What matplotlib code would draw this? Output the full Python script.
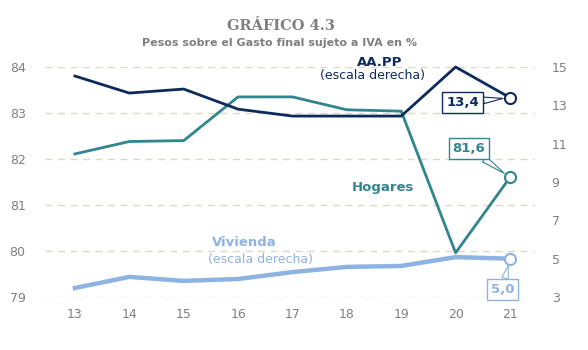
import numpy as np
import matplotlib
matplotlib.use('Agg')
import matplotlib.pyplot as plt

years = [13, 14, 15, 16, 17, 18, 19, 20, 21]
year_labels = ['13', '14', '15', '16', '17', '18', '19', '20', '21']
hogares = [82.11, 82.38, 82.40, 83.35, 83.35, 83.07, 83.04, 79.96, 81.6]   # eje izquierdo
aapp = [14.53, 13.64, 13.85, 12.80, 12.44, 12.44, 12.44, 15.0, 13.4]      # eje derecho
vivienda = [3.47, 4.05, 3.84, 3.94, 4.30, 4.57, 4.62, 5.08, 5.0]          # eje derecho

c_aapp = '#0e2a5c'
c_hog = '#31858f'
c_viv = '#8db3e2'
c_txt = '#7f7f7f'
c_grid = '#ddd8c4'

W, H = 588, 350
fig = plt.figure(figsize=(W/100, H/100), dpi=100)
ax = fig.add_axes([45/W, 53/H, 490/W, 230/H])
ax2 = ax.twinx()

ax.set_xlim(12.45, 21.46)
ax.set_ylim(79, 84)
ax2.set_ylim(3, 15)

for y in np.arange(79, 85):
    ax.axhline(y, color=c_grid, lw=1, ls=(0, (5, 4)), zorder=0)

ax.plot(years, hogares, color=c_hog, lw=2, clip_on=False, zorder=3)
ax2.plot(years, aapp, color=c_aapp, lw=2, clip_on=False, zorder=3)
ax2.plot(years, vivienda, color=c_viv, lw=3.2, clip_on=False, zorder=2)

ax.plot(years[-1], hogares[-1], 'o', ms=8, mfc='white', mec=c_hog, mew=1.5, clip_on=False, zorder=5)
ax2.plot(years[-1], aapp[-1], 'o', ms=8, mfc='white', mec=c_aapp, mew=1.5, clip_on=False, zorder=5)
ax2.plot(years[-1], vivienda[-1], 'o', ms=8, mfc='white', mec=c_viv, mew=1.5, clip_on=False, zorder=5)

for a in (ax, ax2):
    for s in a.spines.values():
        s.set_visible(False)
    a.tick_params(length=0, labelsize=9, labelcolor=c_txt)

ax.set_xticks(years)
ax.set_xticklabels(year_labels)
ax.set_yticks(np.arange(79, 85))
ax2.set_yticks(np.arange(3, 16, 2))
ax.tick_params(axis='x', pad=8)
ax.tick_params(axis='y', pad=14)
ax2.tick_params(axis='y', pad=12)

def callout(a, x, y, txt, tx, ty, color, fs=9.5):
    a.annotate(txt, xy=(x, y), xytext=(tx, ty), textcoords='offset points',
               ha='center', va='center', fontsize=fs, fontweight='bold', color=color,
               bbox=dict(boxstyle='square,pad=0.3', fc='white', ec=color, lw=1),
               arrowprops=dict(arrowstyle='wedge,tail_width=0.5', fc='white', ec=color,
                               lw=0.8, shrinkA=0, shrinkB=5),
               zorder=6)

callout(ax2, years[-1], aapp[-1], '13,4', -34, -3.5, c_aapp)
callout(ax, years[-1], hogares[-1], '81,6', -29.5, 21, c_hog)
callout(ax2, years[-1], vivienda[-1], '5,0', -5.5, -22, c_viv)

def label(x, y, txt, color, bold=True, fs=9.5, **kw):
    # x, y en píxeles desde la esquina superior izquierda
    fig.text(x/W, 1 - y/H, txt, fontsize=fs, fontweight='bold' if bold else 'normal',
             color=color, ha='center', va='center', **kw)

label(380, 62, 'AA.PP', c_aapp)
label(372, 76, '(escala derecha)', c_aapp, bold=False, fs=9)
label(383, 187, 'Hogares', c_hog)
label(244, 243, 'Vivienda', c_viv)
label(260, 260, '(escala derecha)', c_viv, bold=False, fs=9)

label(281, 26, 'GRÁFICO 4.3', c_txt, fs=10.5, family='DejaVu Serif')
label(280, 43, 'Pesos sobre el Gasto final sujeto a IVA en %', c_txt, fs=8)

plt.savefig('out.png', dpi=100)
